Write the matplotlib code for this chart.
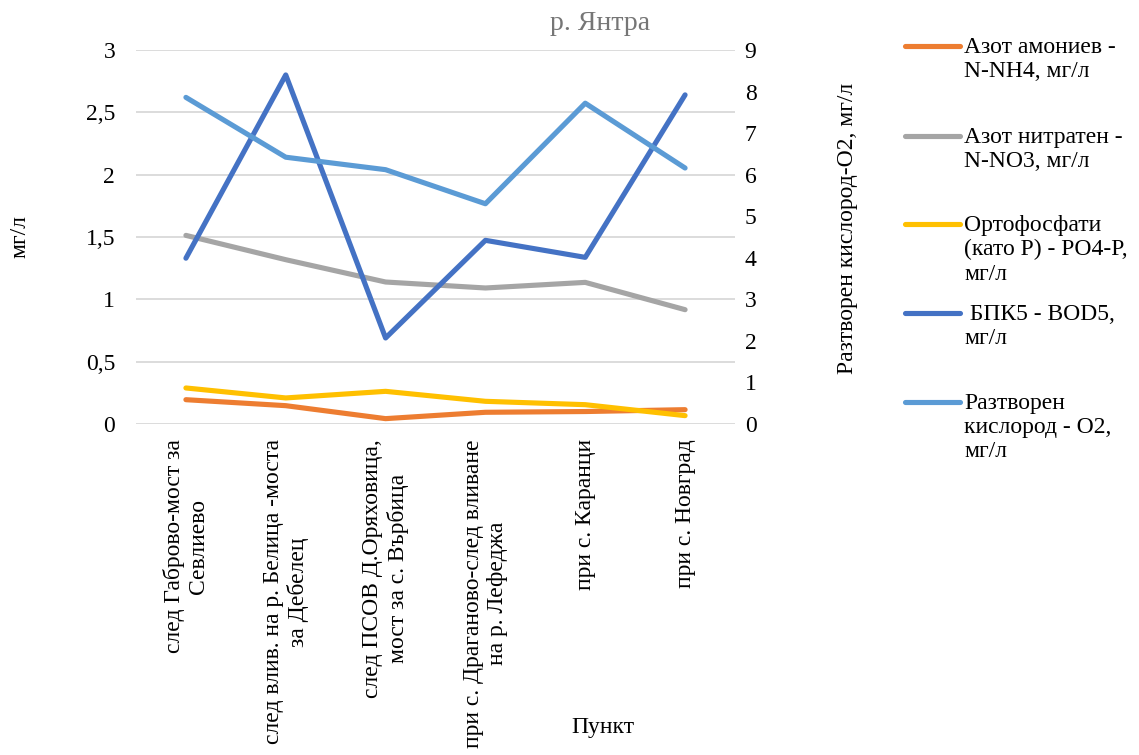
import matplotlib
matplotlib.use("Agg")
import matplotlib.pyplot as plt
from matplotlib.lines import Line2D
from matplotlib.ticker import FuncFormatter, MultipleLocator

plt.rcParams['font.family'] = ['Liberation Serif', 'DejaVu Serif']

categories = [
    "след Габрово-мост за\nСевлиево",
    "след влив. на р. Белица -моста\nза Дебелец",
    "след ПСОВ Д.Оряховица,\nмост за с. Върбица",
    "при с. Драганово-след вливане\nна р. Лефеджа",
    "при с. Каранци",
    "при с. Новград",
]
ammonium = [0.195, 0.147, 0.043, 0.094, 0.100, 0.115]
nitrate = [1.513, 1.318, 1.139, 1.091, 1.136, 0.917]
phosphate = [0.289, 0.209, 0.262, 0.182, 0.155, 0.067]
bod5 = [3.99, 8.40, 2.07, 4.42, 4.01, 7.92]
oxygen = [7.86, 6.42, 6.12, 5.30, 7.72, 6.16]

labels = [
    "Азот амониев -\nN-NH4, мг/л",
    "Азот нитратен -\nN-NO3, мг/л",
    "Ортофосфати\n(като P) - PO4-P,\nмг/л",
    " БПК5 - BOD5,\nмг/л",
    "Разтворен\nкислород - O2,\nмг/л",
]
colors = ['#ED7D31', '#A5A5A5', '#FFC000', '#4472C4', '#5B9BD5']

W, H = 1139, 755
FS = 17
fig = plt.figure(figsize=(W / 100, H / 100), dpi=100)

def fx(px):
    return px / W

def fy(py):
    return 1 - py / H

ax = fig.add_axes([fx(136), fy(424), fx(735) - fx(136), fy(50) - fy(424)])
ax2 = ax.twinx()

x = list(range(len(categories)))
lw = 3.7
ax.plot(x, ammonium, color=colors[0], lw=lw, solid_capstyle='round', zorder=3)
ax.plot(x, nitrate, color=colors[1], lw=lw, solid_capstyle='round', zorder=3)
ax.plot(x, phosphate, color=colors[2], lw=lw, solid_capstyle='round', zorder=3)
ax2.plot(x, bod5, color=colors[3], lw=lw, solid_capstyle='round', zorder=3)
ax2.plot(x, oxygen, color=colors[4], lw=lw, solid_capstyle='round', zorder=3)

ax.set_xlim(-0.5, len(categories) - 0.5)
ax.set_ylim(0, 3)
ax2.set_ylim(0, 9)
ax.yaxis.set_major_locator(MultipleLocator(0.5))
ax2.yaxis.set_major_locator(MultipleLocator(1))
ax.yaxis.set_major_formatter(FuncFormatter(lambda v, p: f"{v:g}".replace('.', ',')))
ax2.yaxis.set_major_formatter(FuncFormatter(lambda v, p: f"{v:g}"))

ax.grid(axis='y', color='#D9D9D9', lw=1.3, zorder=0)
ax.set_axisbelow(True)
for a in (ax, ax2):
    for s in a.spines.values():
        s.set_visible(False)
    a.tick_params(length=0, labelsize=FS, colors='#000000')
ax.tick_params(axis='y', pad=15)
ax2.tick_params(axis='y', pad=7)

ax.set_xticks(x)
ax.set_xticklabels(categories, rotation=90, ha='center', va='top',
                   multialignment='center', linespacing=1.2)
ax.tick_params(axis='x', pad=11)

fig.text(fx(20), fy(237), "мг/л", rotation=90, ha='center', va='center', fontsize=FS)
fig.text(fx(848), fy(228), "Разтворен кислород-O2, мг/л", rotation=90,
         ha='center', va='center', fontsize=FS)
fig.text(fx(600), fy(23), "р. Янтра", ha='center', va='center', fontsize=20, color='#767676')
fig.text(fx(603), fy(727), "Пункт", ha='center', va='center', fontsize=FS)

# legend (handle aligned with the first text line)
leg_y = [46, 136, 224, 313, 402]
for lab, col, yy in zip(labels, colors, leg_y):
    fig.add_artist(Line2D([fx(905), fx(960)], [fy(yy), fy(yy)], color=col, lw=lw,
                          solid_capstyle='round', transform=fig.transFigure))
    fig.text(fx(964), fy(yy - 9), lab, ha='left', va='top', fontsize=FS, linespacing=1.2)

fig.savefig("out.png", dpi=100)
